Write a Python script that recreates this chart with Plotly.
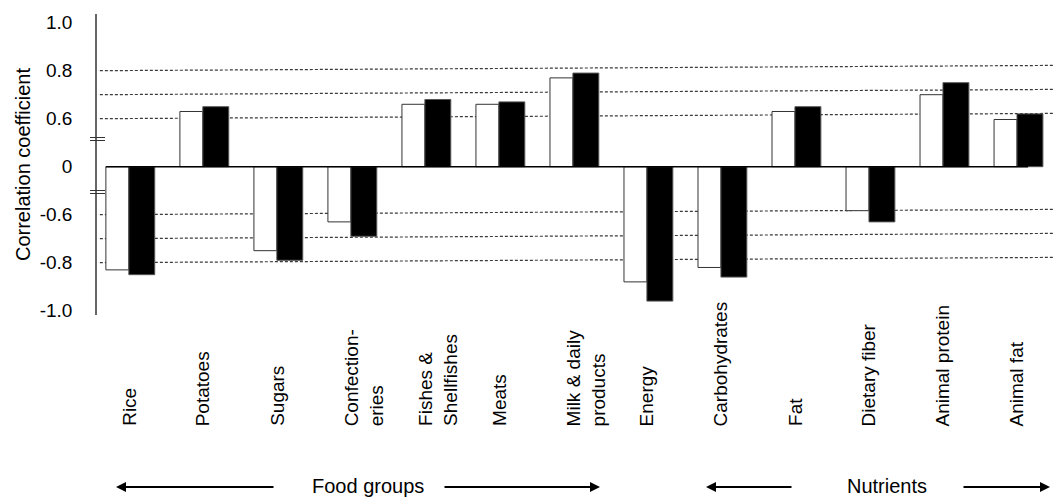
import plotly.graph_objects as go

# ---- data ----
categories = ["Rice", "Potatoes", "Sugars", "Confection-<br>eries", "Fishes &<br>Shellfishes",
              "Meats", "Milk & daily<br>products", "Energy", "Carbohydrates", "Fat",
              "Dietary fiber", "Animal protein", "Animal fat"]
white_values = [-0.83, 0.63, -0.75, -0.63, 0.66, 0.66, 0.77, -0.88, -0.82, 0.63, -0.55, 0.70, 0.59]
black_values = [-0.85, 0.65, -0.79, -0.69, 0.68, 0.67, 0.79, -0.96, -0.86, 0.65, -0.63, 0.75, 0.62]
tick_values = [1.0, 0.8, 0.6, 0.0, -0.6, -0.8, -1.0]
tick_labels = ["1.0", "0.8", "0.6", "0", "-0.6", "-0.8", "-1.0"]
grid_values = [0.8, 0.7, 0.6, -0.6, -0.7, -0.8]
group_labels = ["Food groups", "Nutrients"]

FONT = "Arial, Liberation Sans, sans-serif"
W, H = 1054, 498
ML, MR, MT, MB = 97, 0, 14, 183
PW, PH = W - ML - MR, H - MT - MB


def brk(v):
    """Broken-axis transform: 0..0.6 compressed into one unit, then 0.2 per unit."""
    a = abs(v)
    s = 1 if v >= 0 else -1
    return s * (a / 0.6 if a <= 0.6 else 1 + (a - 0.6) / 0.2)


def px_x(p):
    return (p - ML) / PW


def px_y(p):
    return (H - MB - p) / PH


xs = list(range(len(categories)))
WHITE_W, BLACK_W = 0.31, 0.35

fig = go.Figure()
fig.add_trace(go.Bar(
    x=xs, y=[brk(v) for v in white_values], width=WHITE_W, offset=-WHITE_W,
    marker=dict(color="white", line=dict(color="#333333", width=1)),
    customdata=white_values, hovertemplate="%{customdata}<extra></extra>", showlegend=False))
fig.add_trace(go.Bar(
    x=xs, y=[brk(v) for v in black_values], width=BLACK_W, offset=0.0,
    marker=dict(color="black", line=dict(color="#555555", width=1)),
    customdata=black_values, hovertemplate="%{customdata}<extra></extra>", showlegend=False))

shapes = []
# dashed reference lines (slightly tilted as in the scanned original)
for g in grid_values:
    shapes.append(dict(type="line", xref="paper", yref="y", x0=0.003, x1=1.0,
                       y0=brk(g), y1=brk(g) + 0.11,
                       line=dict(color="#3a3a3a", width=1.2, dash="3px,2px"), layer="below"))
# zero line
shapes.append(dict(type="line", xref="x", yref="y", x0=xs[0] - WHITE_W, x1=xs[-1] + 0.15, y0=0, y1=0,
                   line=dict(color="black", width=1.5)))
# axis break marks
for yy in [137.5, 140.5, 190.5, 193.5]:
    shapes.append(dict(type="line", xref="paper", yref="paper", x0=px_x(90), x1=px_x(105),
                       y0=px_y(yy), y1=px_y(yy), line=dict(color="#333333", width=1)))

annotations = []
for i, c in enumerate(categories):
    annotations.append(dict(x=i, y=px_y(428), xref="x", yref="paper", text=c, textangle=-90,
                            showarrow=False, xanchor="center", yanchor="bottom", align="left",
                            xshift=13 if "<br>" in c else 0,
                            font=dict(family=FONT, size=19, color="black")))

annotations.append(dict(x=px_x(368), y=px_y(486), xref="paper", yref="paper", text=group_labels[0],
                        showarrow=False, xanchor="center", yanchor="middle",
                        font=dict(family=FONT, size=20, color="black")))
annotations.append(dict(x=px_x(887), y=px_y(486), xref="paper", yref="paper", text=group_labels[1],
                        showarrow=False, xanchor="center", yanchor="middle",
                        font=dict(family=FONT, size=20, color="black")))
# arrows: (tail_px, head_px)
for tail, head in [(275, 116), (443, 600), (793, 706), (962, 1050)]:
    annotations.append(dict(x=px_x(head), y=px_y(487), xref="paper", yref="paper", text="",
                            showarrow=True, ax=tail - head, ay=0, axref="pixel", ayref="pixel",
                            arrowhead=2, arrowsize=1, arrowwidth=2, arrowcolor="black", standoff=0))

fig.update_layout(
    width=W, height=H, margin=dict(l=ML, r=MR, t=MT, b=MB),
    paper_bgcolor="white", plot_bgcolor="white",
    barmode="overlay", shapes=shapes, annotations=annotations,
    font=dict(family=FONT, color="black"),
    xaxis=dict(range=[-0.43, 12.50], showticklabels=False, showgrid=False, zeroline=False,
               showline=False, ticks=""),
    yaxis=dict(range=[brk(-1.0) - 0.09, brk(1.0) + 0.181], tickvals=[brk(v) for v in tick_values],
               ticktext=tick_labels, showgrid=False, zeroline=False, showline=True,
               linecolor="#666666", linewidth=1.5, ticks="", ticklabelstandoff=19,
               tickfont=dict(family=FONT, size=19, color="black"),
               title=dict(text="Correlation coefficient", standoff=4,
                          font=dict(family=FONT, size=20, color="black"))),
)

fig.write_html("out.html", config={"displayModeBar": False},
               post_script="document.body.style.margin='0';")
